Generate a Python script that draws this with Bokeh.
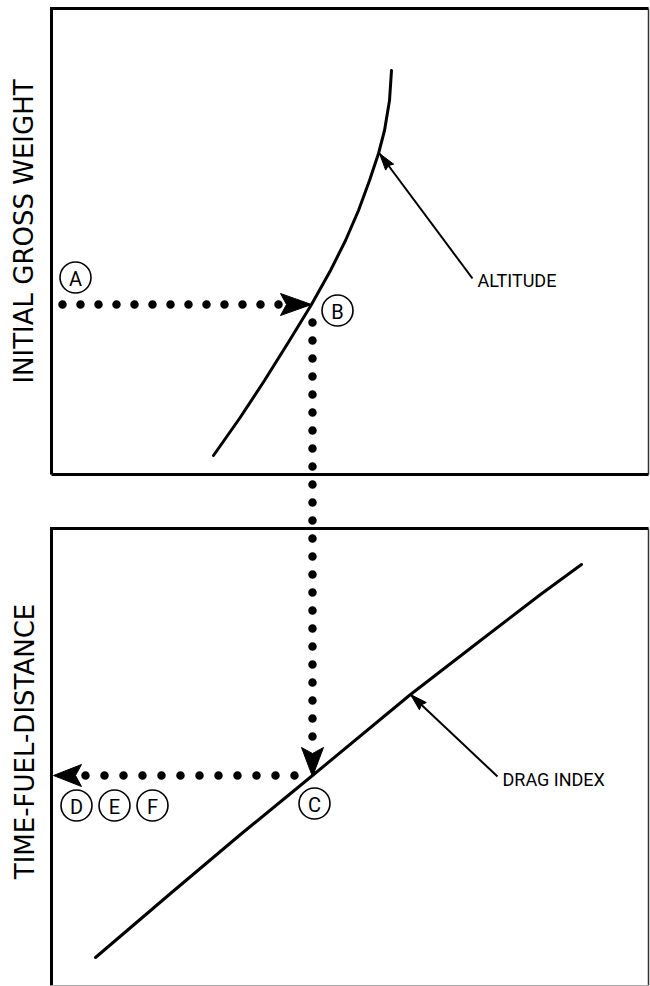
import math
from bokeh.plotting import figure
from bokeh.models import Range1d
from bokeh.core.properties import value
from bokeh.embed import file_html
from bokeh.resources import INLINE

# ---- diagram data (reference grid units, y grows downward) ----
panel_left = [51, 51]
panel_top = [8, 528]
panel_right = [648, 648]
panel_bottom = [474, 985]

altitude_x = [391, 389, 384, 378, 369, 358, 345, 330, 311, 289, 264, 239, 213]
altitude_y = [70, 100, 130, 153, 180, 210, 240, 270, 304, 340, 380, 418, 455]

drag_x = [95, 170, 240, 312, 410, 480, 540, 581]
drag_y = [957, 893, 834, 775, 694, 640, 594, 564]

# reading path A -> B -> C -> D
ab_x = [62, 281]
ab_y = [304, 304]
bc_x = [312, 312]
bc_y = [322, 746]
cd_x = [294, 84]
cd_y = [775, 775]

# arrow tips
ab_tip = (311, 304)
bc_tip = (312, 776)
cd_tip = (53, 775)

# leaders
alt_leader_x = [472, 379]
alt_leader_y = [278, 153]
drag_leader_x = [497, 410]
drag_leader_y = [776, 694]

circle_labels = ["A", "B", "C", "D", "E", "F"]
circle_x = [75, 337, 314, 76, 114, 152]
circle_y = [277, 310, 803, 805, 805, 805]

note_labels = ["ALTITUDE", "DRAG INDEX"]
note_x = [477, 502]
note_y = [280, 779]

axis_titles = ["INITIAL GROSS WEIGHT", "TIME-FUEL-DISTANCE"]
axis_title_x = [23, 24]
axis_title_y = [231, 741]

NOTE_FONT = value("Roboto")
SANS = value("DejaVu Sans")

p = figure(width=650, height=986, output_backend="svg", toolbar_location=None,
           x_range=Range1d(0, 650), y_range=Range1d(986, 0),
           x_axis_location=None, y_axis_location=None, min_border=0)
p.grid.visible = False
p.outline_line_color = None
p.background_fill_color = "white"
p.border_fill_color = "white"

# panel frames: heavy left/top/bottom, light right edge
for i in range(2):
    l, t, r, b = panel_left[i], panel_top[i], panel_right[i], panel_bottom[i]
    p.line([l, l], [t - 1.5, b], line_color="black", line_width=3)
    p.line([l - 1.5, r], [t, t], line_color="black", line_width=3)
    p.line([r, r], [t, b], line_color="#333333", line_width=1.5)
    if i == 0:
        p.line([l, r], [b, b], line_color="black", line_width=3)
    else:
        p.line([l, r], [b, b], line_color="#aaaaaa", line_width=1.2)

# curves
p.line(altitude_x, altitude_y, line_color="black", line_width=3, line_cap="round",
       line_join="round")
p.line(drag_x, drag_y, line_color="black", line_width=3, line_cap="round",
       line_join="round")

# dotted reading path
p.line(ab_x, ab_y, line_color="black", line_width=8.5, line_dash="0 18", line_cap="round")
p.line(bc_x, bc_y, line_color="black", line_width=8.5, line_dash="0 18", line_cap="round")
p.line(cd_x, cd_y, line_color="black", line_width=8.5, line_dash="0 19", line_cap="round")


def head(tip, frm, length, half, notch):
    tx, ty = tip
    fx, fy = frm
    dx, dy = tx - fx, ty - fy
    n = math.hypot(dx, dy)
    ux, uy = dx / n, dy / n
    bx, by = tx - ux * length, ty - uy * length
    px, py = -uy, ux
    xs = [tx, bx + px * half, bx + ux * notch, bx - px * half]
    ys = [ty, by + py * half, by + uy * notch, by - py * half]
    return xs, ys


heads = [
    head(ab_tip, (ab_x[0], ab_y[0]), 31, 11, 6),
    head(bc_tip, (bc_x[0], bc_y[0]), 29, 11, 6),
    head(cd_tip, (cd_x[0], cd_y[0]), 28, 11, 6),
]

# leader lines
p.line(alt_leader_x, alt_leader_y, line_color="black", line_width=2)
p.line(drag_leader_x, drag_leader_y, line_color="black", line_width=2)
heads.append(head((alt_leader_x[1], alt_leader_y[1]), (alt_leader_x[0], alt_leader_y[0]), 17, 5, 2))
heads.append(head((drag_leader_x[1], drag_leader_y[1]), (drag_leader_x[0], drag_leader_y[0]), 17, 5, 2))

p.patches([h[0] for h in heads], [h[1] for h in heads], fill_color="black",
          line_color="black", line_width=1)

# circled letters
p.scatter(circle_x, circle_y, marker="circle", size=31, fill_color="white",
          line_color="black", line_width=1.6)
p.text(circle_x, [y + 1 for y in circle_y], text=circle_labels, text_font=NOTE_FONT,
       text_font_size="20px", text_align="center", text_baseline="middle", text_color="black")

# notes
p.text(note_x, note_y, text=note_labels, text_font=NOTE_FONT, text_font_size="18px",
       text_align="left", text_baseline="middle", text_color="black")

# axis titles
p.text(axis_title_x, axis_title_y, text=axis_titles, text_font=SANS, text_font_size="26px",
       text_align="center", text_baseline="middle", angle=math.pi / 2, text_color="black")

open("out.html", "w").write(file_html(p, INLINE))
